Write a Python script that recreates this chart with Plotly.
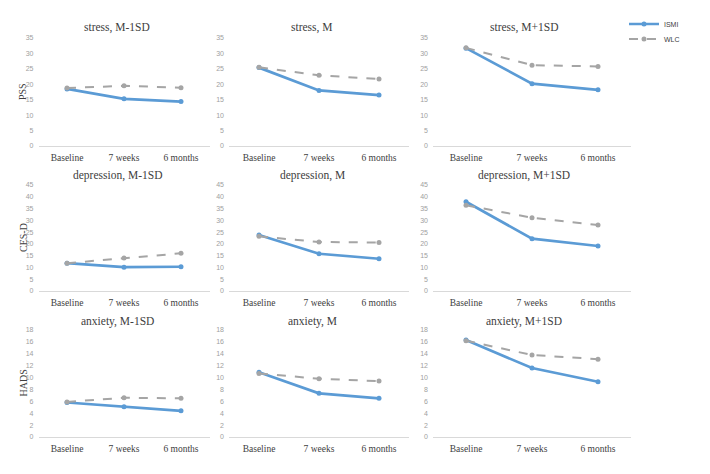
import plotly.graph_objects as go

# the page body adds an 8px margin, so the figure is laid out in shifted pixels
OFF = 8
W, H = 710 - OFF, 474 - OFF

timepoints = ['Baseline', '7 weeks', '6 months']
levels = ['M-1SD', 'M', 'M+1SD']
outcomes = ['stress', 'depression', 'anxiety']
scale_names = ['PSS', 'CES-D', 'HADS']

# ISMI (intervention) values per outcome, per moderator level
ismi_stress = [[18.5, 15.3, 14.4], [25.4, 18.0, 16.5], [31.7, 20.2, 18.2]]
ismi_depression = [[11.8, 10.1, 10.3], [23.8, 15.8, 13.7], [37.9, 22.2, 19.1]]
ismi_anxiety = [[5.8, 5.1, 4.4], [10.9, 7.35, 6.5], [16.3, 11.6, 9.3]]

# WLC (wait-list control) values
wlc_stress = [[18.8, 19.5, 18.9], [25.5, 22.9, 21.7], [31.8, 26.2, 25.8]]
wlc_depression = [[11.8, 14.0, 16.0], [23.2, 20.8, 20.6], [36.4, 31.1, 28.0]]
wlc_anxiety = [[5.9, 6.6, 6.5], [10.7, 9.8, 9.4], [16.2, 13.8, 13.1]]

y_max = [35, 45, 18]
y_step = [5, 5, 2]

ismi = [ismi_stress, ismi_depression, ismi_anxiety]
wlc = [wlc_stress, wlc_depression, wlc_anxiety]

# pixel layout of the 3x3 grid (left, right) and (top, bottom), page coords
col_px = [(38.5, 209.5), (229, 409), (433, 631)]
row_px = [(38, 146), (185, 291), (330, 437)]
title_x = [117, 312, 524]
title_y = [28, 175, 321]


def px(p):
    return (p - OFF) / W


def py(p):
    return 1 - (p - OFF) / H


serif = 'Liberation Serif'
fig = go.Figure()

for r in range(3):
    for c in range(3):
        k = r * 3 + c + 1
        sfx = '' if k == 1 else str(k)
        fig.add_trace(go.Scatter(
            x=timepoints, y=ismi[r][c], mode='lines+markers', name='ISMI',
            line=dict(color='#5b9bd5', width=2.7),
            marker=dict(size=5, color='#5b9bd5'),
            xaxis='x' + sfx, yaxis='y' + sfx, showlegend=(k == 1), legend='legend'))
        fig.add_trace(go.Scatter(
            x=timepoints, y=wlc[r][c], mode='lines+markers', name='WLC',
            line=dict(color='#a5a5a5', width=2, dash='dash'),
            marker=dict(size=5, color='#a5a5a5'),
            xaxis='x' + sfx, yaxis='y' + sfx, showlegend=(k == 1), legend='legend2'))

        x0, x1 = col_px[c]
        y0, y1 = row_px[r]
        fig.layout['xaxis' + sfx] = dict(
            domain=[px(x0), px(x1)], anchor='y' + sfx, range=[-0.5, 2.5],
            showline=True, linecolor='#d9d9d9', linewidth=1,
            showgrid=False, zeroline=False, ticks='', automargin=False,
            tickfont=dict(family=serif, size=9.5, color='#404040'),
            ticklabelstandoff=3, fixedrange=True)
        fig.layout['yaxis' + sfx] = dict(
            domain=[py(y1), py(y0)], anchor='x' + sfx,
            range=[0, y_max[r]], dtick=y_step[r], tick0=0,
            showline=False, showgrid=False, zeroline=False, ticks='', automargin=False,
            tickfont=dict(family='Liberation Sans', size=7, color='#a0a0a0'),
            ticklabelstandoff=4, fixedrange=True)

        fig.add_annotation(
            text=f'{outcomes[r]}, {levels[c]}', x=px(title_x[c]), y=py(title_y[r]),
            xref='paper', yref='paper', showarrow=False, xanchor='center', yanchor='middle',
            font=dict(family=serif, size=11.5, color='#404040'))

    fig.add_annotation(
        text=scale_names[r], textangle=-90,
        x=px(23), y=py((row_px[r][0] + row_px[r][1]) / 2),
        xref='paper', yref='paper', showarrow=False, xanchor='center', yanchor='middle',
        font=dict(family=serif, size=10, color='#404040'))

legend_style = dict(xanchor='left', yanchor='middle',
                    font=dict(family='Liberation Sans', size=7, color='#404040'),
                    bgcolor='rgba(0,0,0,0)', itemwidth=30)

fig.update_layout(
    width=W, height=H, margin=dict(l=0, r=0, t=0, b=0, autoexpand=False),
    paper_bgcolor='white', plot_bgcolor='white',
    legend=dict(x=px(624), y=py(24), **legend_style),
    legend2=dict(x=px(624), y=py(39), **legend_style),
)

fig.write_html('out.html')
